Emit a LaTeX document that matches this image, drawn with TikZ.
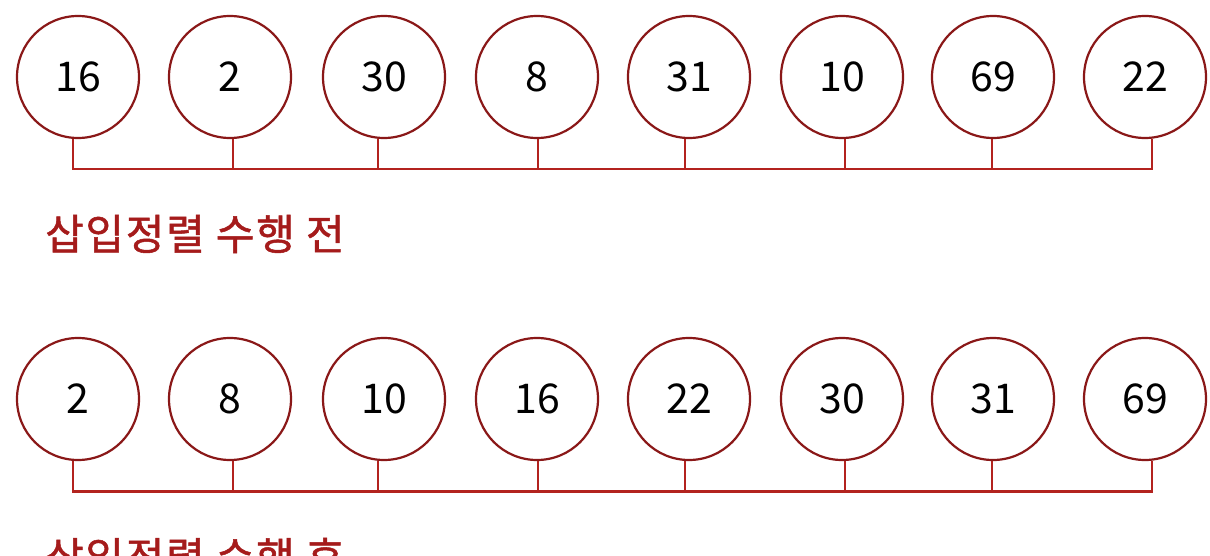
\documentclass[tikz,border=0pt]{standalone}
\usepackage{fontspec}
\setmainfont{Noto Sans CJK KR}
\newfontfamily\capfont[FakeBold=1.2,LetterSpace=4]{Noto Sans CJK KR}
\usetikzlibrary{calc}
\definecolor{ringred}{HTML}{8A1818}
\definecolor{linered}{HTML}{B3231F}
\definecolor{labelred}{HTML}{A51B1B}
\tikzset{
  ball/.style={circle, draw=ringred, line width=2.2pt, minimum size=122pt, inner sep=0pt, fill=white, font=\fontsize{41}{41}\selectfont, text=black},
  conn/.style={draw=linered, line width=2.8pt},
  caption/.style={anchor=west, inner sep=0pt, text=labelred, font=\fontsize{42}{42}\selectfont\capfont}
}
\begin{document}
\begin{tikzpicture}[x=1pt,y=-1pt]
\clip (0,0) rectangle (1210,556);
\fill[white] (0,0) rectangle (1210,556);
% top row
\foreach \n/\x/\v in {1/78/16,2/230/2,3/384/30,4/537/8,5/689/31,6/842/10,7/993/69,8/1145/22}{
  \node[ball] (t\n) at (\x,77) {\v};
}
% bottom row
\foreach \n/\x/\v in {1/78/2,2/230/8,3/384/10,4/537/16,5/689/22,6/842/30,7/993/31,8/1145/69}{
  \node[ball] (b\n) at (\x,399) {\v};
}
% connectors
\foreach \r in {t,b}{
  \draw[conn] ([xshift=-5pt]\r1.south) -- ++(0,30) -| ([xshift=7pt]\r8.south);
  \foreach \n/\o in {2/3,3/-6,4/1,5/-4,6/3,7/-1}{
    \draw[conn] ([xshift=\o pt]\r\n.south) -- ++(0,30);
  }
}
\node[caption] (cap1) at (45,234) {삽입정렬 수행 전};
\node[caption] (cap2) at (45,557) {삽입정렬 수행 후};
\end{tikzpicture}
\end{document}
